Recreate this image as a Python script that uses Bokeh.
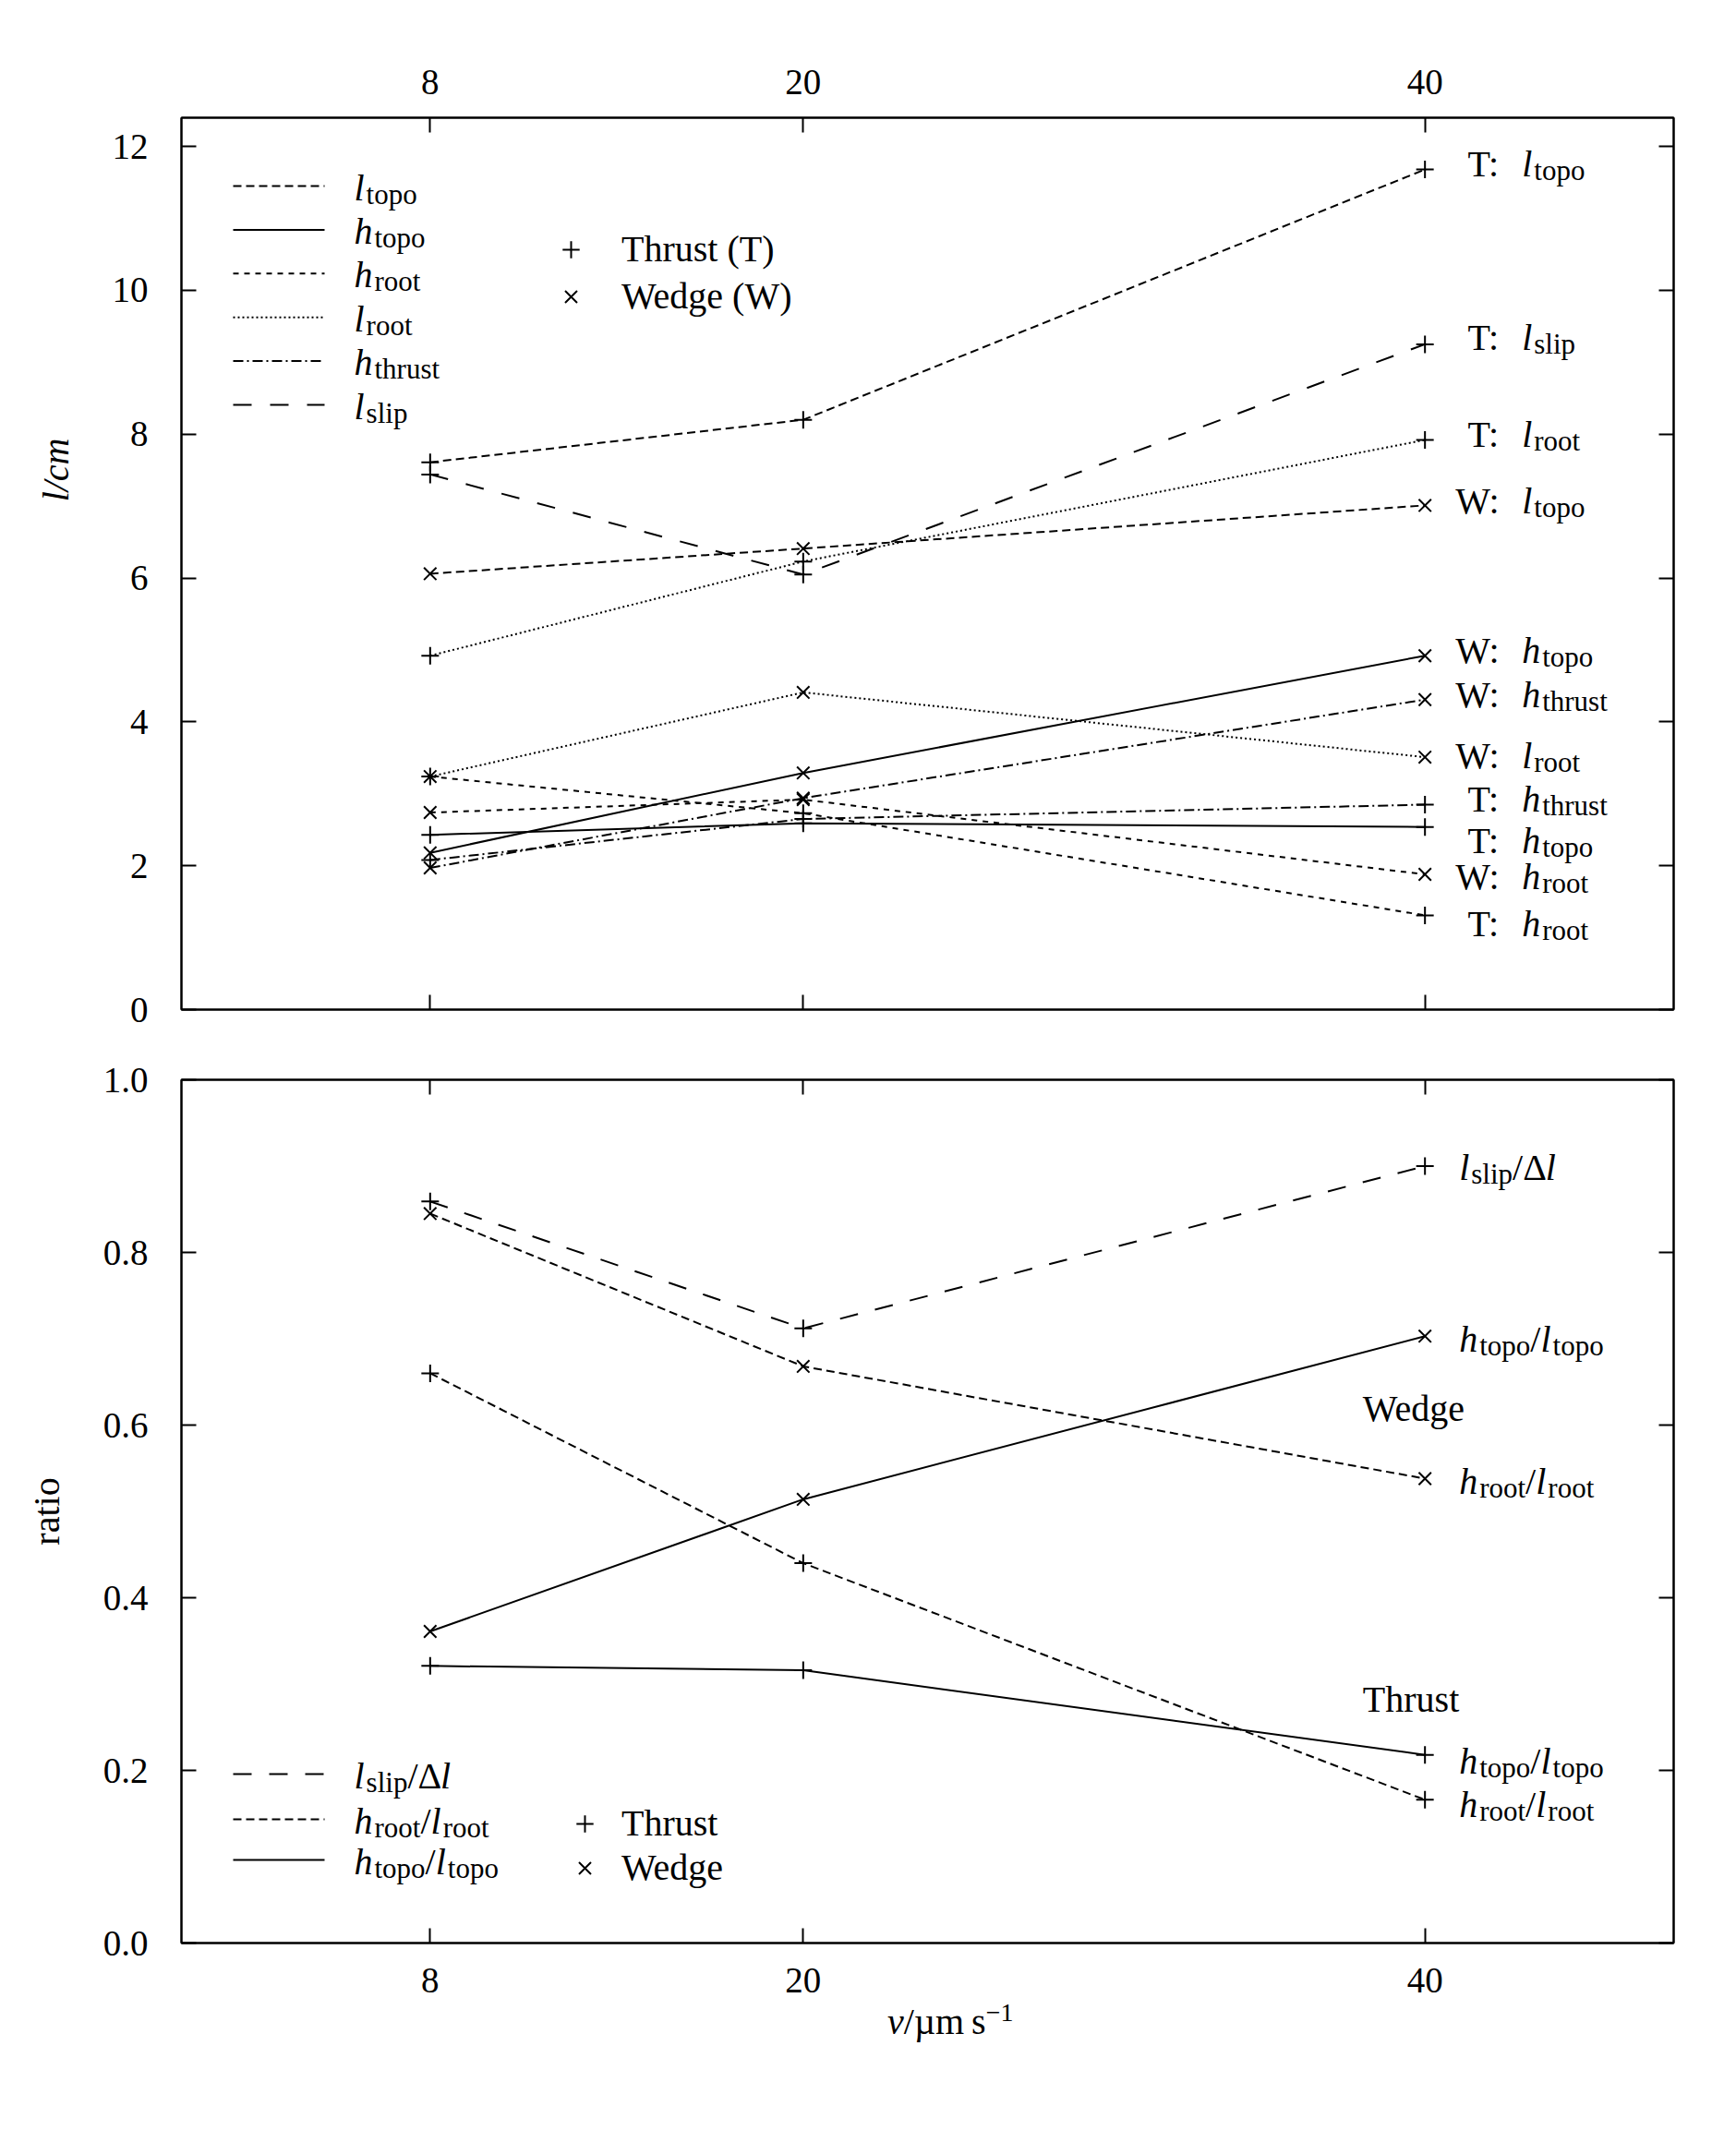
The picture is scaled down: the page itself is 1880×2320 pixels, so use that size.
from bokeh.plotting import figure
from bokeh.models import (Range1d, LinearAxis, FixedTicker, Label, Arrow, Legend,
                          LegendItem, NumeralTickFormatter, Div, Title)
from bokeh.layouts import column
from bokeh.embed import file_html
from bokeh.resources import INLINE

# ---------------- data ----------------
speeds = [8, 20, 40]                      # v / um s^-1

# upper panel: lengths (cm)
thrust_l_topo = [7.61, 8.20, 11.68]
thrust_l_slip = [7.44, 6.05, 9.25]
thrust_l_root = [4.92, 6.23, 7.92]
thrust_h_thrust = [2.08, 2.65, 2.85]
thrust_h_topo = [2.43, 2.59, 2.54]
thrust_h_root = [3.24, 2.73, 1.31]

wedge_l_topo = [6.06, 6.41, 7.01]
wedge_h_topo = [2.18, 3.29, 4.92]
wedge_h_thrust = [1.97, 2.94, 4.31]
wedge_l_root = [3.24, 4.41, 3.51]
wedge_h_root = [2.74, 2.92, 1.88]

# lower panel: ratios
thrust_slip_ratio = [0.859, 0.712, 0.900]
thrust_root_ratio = [0.660, 0.440, 0.166]
thrust_topo_ratio = [0.321, 0.316, 0.218]
wedge_root_ratio = [0.845, 0.668, 0.538]
wedge_topo_ratio = [0.361, 0.514, 0.703]

x_ticks = [8, 20, 40]
top_y_ticks = [0, 2, 4, 6, 8, 10, 12]
bottom_y_ticks = [0.0, 0.2, 0.4, 0.6, 0.8, 1.0]

# ---------------- layout / style ----------------
FONT = "Liberation Serif"
FS = 40
SUB = 31
TICK_FS = 39
LW = 2
MS = 19

W = 1864
LEFT = 196
FRAME_W = 1616
FRAME_H1 = 966
FRAME_H2 = 935
XMAX = 48
Y1MAX = 12.4
Y2MAX = 1.0
ppx = FRAME_W / XMAX
ppy1 = FRAME_H1 / Y1MAX
ppy2 = FRAME_H2 / Y2MAX

DASH = {"l_topo": "9 5", "h_topo": "solid", "h_root": "6 6", "l_root": "2 3",
        "h_thrust": "11 4 2 4", "l_slip": "20 20"}

RM = {' ': 250, '(': 333, ')': 333, '/': 278, ':': 278, '.': 250, '\u2212': 564, 'µ': 500,
      'Δ': 612, 'T': 611, 'W': 944, 'a': 444, 'b': 500, 'c': 444, 'd': 500, 'e': 444,
      'f': 333, 'g': 500, 'h': 500, 'i': 278, 'j': 278, 'k': 500, 'l': 278, 'm': 778,
      'n': 500, 'o': 500, 'p': 500, 'q': 500, 'r': 333, 's': 389, 't': 278, 'u': 500,
      'v': 500, 'w': 722, 'x': 500, 'y': 500, 'z': 444}
for d in "0123456789":
    RM[d] = 500
IT = {'l': 278, 'h': 500, 'v': 444, 'c': 444, 'm': 722}


def tw(s, size, italic=False):
    tab = IT if italic else RM
    return sum(tab.get(c, RM.get(c, 500)) for c in s) * size / 1000.0


def put_math(p, x, yc, pieces, ppy, align="left"):
    widths = []
    for t, k in pieces:
        size = SUB if k in ("sub", "sup") else FS
        widths.append(tw(t, size, k == "it") + (2 if k == "it" else 0))
    total = sum(widths)
    off = -total if align == "right" else (-total / 2 if align == "center" else 0)
    base = yc - (0.34 * FS - 12) / ppy
    for (t, k), w in zip(pieces, widths):
        if k == "sub":
            y, size = base - 7 / ppy, SUB
        elif k == "sup":
            y, size = base + 15 / ppy, SUB
        else:
            y, size = base, FS
        p.add_layout(Label(x=x, y=y, x_offset=off, text=t, text_font=FONT,
                           text_font_size=f"{size}px",
                           text_font_style="italic" if k == "it" else "normal",
                           text_baseline="alphabetic", text_align="left",
                           text_color="black"))
        off += w


def style_axis(ax, ticks, labels=True):
    ax.ticker = FixedTicker(ticks=ticks)
    ax.axis_line_color = "black"
    ax.axis_line_width = LW
    ax.major_tick_line_color = "black"
    ax.major_tick_line_width = LW
    ax.major_tick_in = 16
    ax.major_tick_out = 0
    ax.minor_tick_line_color = None
    ax.major_label_text_font = FONT
    ax.major_label_text_font_size = f"{TICK_FS}px"
    ax.major_label_text_color = "black"
    ax.axis_label_text_color = "black"
    ax.axis_label_text_font = FONT
    ax.axis_label_text_font_size = f"{FS}px"
    if not labels:
        ax.major_label_overrides = {t: "" for t in ticks}
        ax.major_label_standoff = 0


def base_fig(height, ymax, top, bottom, xloc):
    p = figure(width=W, height=height, x_range=Range1d(0, XMAX), y_range=Range1d(0, ymax),
               output_backend="svg", toolbar_location=None, x_axis_location=xloc,
               min_border_left=LEFT, min_border_right=W - LEFT - FRAME_W,
               min_border_top=top, min_border_bottom=bottom)
    p.xgrid.visible = False
    p.ygrid.visible = False
    p.outline_line_color = "black"
    p.outline_line_width = LW
    p.background_fill_color = "white"
    p.border_fill_color = "white"
    return p


# ================= upper panel =================
TOP1 = 127
H1 = TOP1 + FRAME_H1 + 38
p1 = base_fig(H1, Y1MAX, TOP1, 38, "above")
ax = p1.above[0]
style_axis(ax, x_ticks)
ax.major_label_standoff = 26
ax = p1.left[0]
style_axis(ax, top_y_ticks)
ax.major_label_standoff = 36
b = LinearAxis()
style_axis(b, x_ticks, labels=False)
p1.add_layout(b, "below")
r = LinearAxis()
style_axis(r, top_y_ticks, labels=False)
p1.add_layout(r, "right")
# y label of the upper panel sits above the panel's middle
p1.add_layout(Title(text="l/cm", text_font=FONT, text_font_size=f"{FS}px",
                    text_font_style="italic", text_color="black", align="right",
                    vertical_align="top", offset=347, standoff=68), "left")

top_series = [
    (thrust_l_topo, "l_topo", "cross"),
    (thrust_l_slip, "l_slip", "cross"),
    (thrust_l_root, "l_root", "cross"),
    (thrust_h_thrust, "h_thrust", "cross"),
    (thrust_h_topo, "h_topo", "cross"),
    (thrust_h_root, "h_root", "cross"),
    (wedge_l_topo, "l_topo", "x"),
    (wedge_h_topo, "h_topo", "x"),
    (wedge_h_thrust, "h_thrust", "x"),
    (wedge_l_root, "l_root", "x"),
    (wedge_h_root, "h_root", "x"),
]
rend_T = rend_W = None
for vals, key, mk in top_series:
    p1.line(speeds, vals, line_color="black", line_width=LW, line_dash=DASH[key])
    rr = p1.scatter(speeds, vals, marker=mk, size=MS, line_color="black", line_width=LW)
    if mk == "cross" and rend_T is None:
        rend_T = rr
    if mk == "x" and rend_W is None:
        rend_W = rr

# right-hand labels (group, series, letter, subscript, pixel shift)
top_labels = [
    ("T", thrust_l_topo, "l", "topo", -8),
    ("T", thrust_l_slip, "l", "slip", -9),
    ("T", thrust_l_root, "l", "root", -8),
    ("W", wedge_l_topo, "l", "topo", -6),
    ("W", wedge_h_topo, "h", "topo", -7),
    ("W", wedge_h_thrust, "h", "thrust", -7),
    ("W", wedge_l_root, "l", "root", -3),
    ("T", thrust_h_thrust, "h", "thrust", -8),
    ("T", thrust_h_topo, "h", "topo", 13),
    ("W", wedge_h_root, "h", "root", 1),
    ("T", thrust_h_root, "h", "root", 7),
]
for grp, vals, let, sub, shift in top_labels:
    yc = vals[-1] - shift / ppy1
    put_math(p1, speeds[-1] + 82 / ppx, yc, [(grp + ":", "rm")], ppy1, align="right")
    put_math(p1, speeds[-1] + 105 / ppx, yc, [(let, "it"), (sub, "sub")], ppy1)

# line-style key
key_rows = [("l_topo", "l", "topo"), ("h_topo", "h", "topo"), ("h_root", "h", "root"),
            ("l_root", "l", "root"), ("h_thrust", "h", "thrust"), ("l_slip", "l", "slip")]
for i, (key, let, sub) in enumerate(key_rows):
    yc = Y1MAX - (74 + i * 47.4) / ppy1
    p1.add_layout(Arrow(end=None, x_start=56 / ppx, x_end=155 / ppx, y_start=yc, y_end=yc,
                        line_color="black", line_width=LW, line_dash=DASH[key]))
    put_math(p1, 187 / ppx, yc, [(let, "it"), (sub, "sub")], ppy1)

leg1 = Legend(items=[LegendItem(label="Thrust (T)", renderers=[rend_T]),
                     LegendItem(label="Wedge (W)", renderers=[rend_W])],
              location=(399, 749), glyph_width=46, glyph_height=46, label_standoff=32,
              spacing=4, padding=0, margin=0, border_line_color=None,
              background_fill_alpha=0, label_text_font=FONT,
              label_text_font_size=f"{FS}px", label_text_color="black")
p1.add_layout(leg1)

# ================= lower panel =================
BOT2 = 75
H2 = 38 + FRAME_H2 + BOT2
p2 = base_fig(H2, Y2MAX, 38, BOT2, "below")
ax = p2.below[0]
style_axis(ax, x_ticks)
ax.major_label_standoff = 27
ax = p2.left[0]
style_axis(ax, bottom_y_ticks)
ax.formatter = NumeralTickFormatter(format="0.0")
ax.major_label_standoff = 36
ax.axis_label = "ratio"
ax.axis_label_text_font_style = "normal"
ax.axis_label_standoff = 36
t = LinearAxis()
style_axis(t, x_ticks, labels=False)
p2.add_layout(t, "above")
r = LinearAxis()
style_axis(r, bottom_y_ticks, labels=False)
p2.add_layout(r, "right")

RDASH = {"slip": "20 19", "root": "9 5", "topo": "solid"}
bottom_series = [
    (thrust_slip_ratio, "slip", "cross"),
    (thrust_root_ratio, "root", "cross"),
    (thrust_topo_ratio, "topo", "cross"),
    (wedge_root_ratio, "root", "x"),
    (wedge_topo_ratio, "topo", "x"),
]
rb_T = rb_W = None
for vals, key, mk in bottom_series:
    p2.line(speeds, vals, line_color="black", line_width=LW, line_dash=RDASH[key])
    rr = p2.scatter(speeds, vals, marker=mk, size=MS, line_color="black", line_width=LW)
    if mk == "cross" and rb_T is None:
        rb_T = rr
    if mk == "x" and rb_W is None:
        rb_W = rr

SLIP = [("l", "it"), ("slip", "sub"), ("/", "rm"), ("Δ", "rm"), ("l", "it")]
ROOT = [("h", "it"), ("root", "sub"), ("/", "rm"), ("l", "it"), ("root", "sub")]
TOPO = [("h", "it"), ("topo", "sub"), ("/", "rm"), ("l", "it"), ("topo", "sub")]

bottom_labels = [
    (thrust_slip_ratio, SLIP, 0),
    (wedge_topo_ratio, TOPO, 2),
    (wedge_root_ratio, ROOT, 1),
    (thrust_topo_ratio, TOPO, 5),
    (thrust_root_ratio, ROOT, 4),
]
for vals, pieces, shift in bottom_labels:
    put_math(p2, speeds[-1] + 37 / ppx, vals[-1] - shift / ppy2, pieces, ppy2)

put_math(p2, 38.0, 0.621, [("Wedge", "rm")], ppy2)
put_math(p2, 38.0, 0.284, [("Thrust", "rm")], ppy2)

rkey = [("slip", SLIP, 183), ("root", ROOT, 134), ("topo", TOPO, 90)]
for key, pieces, px in rkey:
    yc = px / ppy2
    p2.add_layout(Arrow(end=None, x_start=56 / ppx, x_end=155 / ppx, y_start=yc, y_end=yc,
                        line_color="black", line_width=LW, line_dash=RDASH[key]))
    put_math(p2, 187 / ppx, yc, pieces, ppy2)

leg2 = Legend(items=[LegendItem(label="Thrust", renderers=[rb_T]),
                     LegendItem(label="Wedge", renderers=[rb_W])],
              location=(414, 58), glyph_width=46, glyph_height=46, label_standoff=17,
              spacing=1, padding=0, margin=0, border_line_color=None,
              background_fill_alpha=0, label_text_font=FONT,
              label_text_font_size=f"{FS}px", label_text_color="black")
p2.add_layout(leg2)

# x-axis label  v/um s^-1 (below the lower panel)
xlabel = Div(text="<i>v</i>/µm&thinsp;s<sup style='font-size:28px'>\u22121</sup>",
             width=300, margin=(-22, 0, 0, 961),
             styles={"font-family": FONT, "font-size": f"{FS}px", "line-height": "46px",
                     "color": "black"})

layout = column(p1, p2, xlabel)
open("out.html", "w").write(file_html(layout, INLINE))
